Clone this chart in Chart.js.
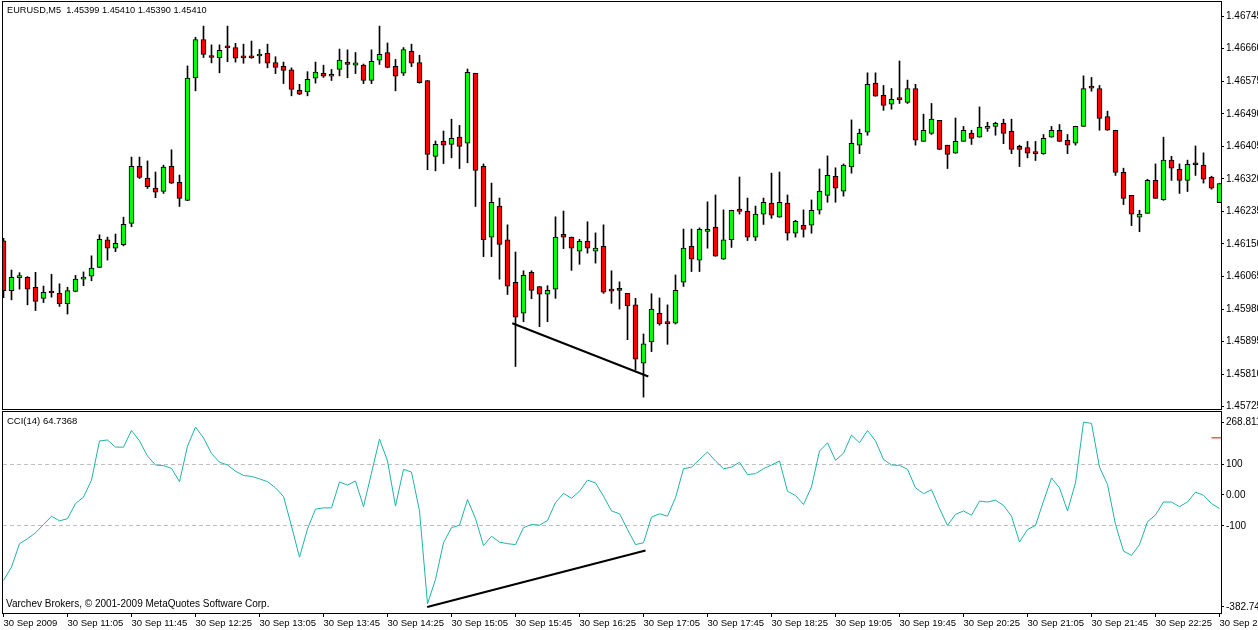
<!DOCTYPE html>
<html lang="en">
<head>
<meta charset="UTF-8">
<title>EURUSD,M5 with CCI(14)</title>
<script src="https://cdn.jsdelivr.net/npm/chart.js"></script>
<style>
  body { margin: 0; background: #fff; width: 1258px; height: 630px; overflow: hidden; position: relative; font-family: "Liberation Sans", Arial, sans-serif; }
  canvas { position: absolute; left: 0; }
  #priceChart { top: 0; }
  #cciChart { top: 410px; }
  .caption { position: absolute; font-size: 10px; line-height: 12px; color: #000; white-space: pre; }
</style>
</head>
<body>
<canvas id="priceChart" width="1258" height="410"></canvas>
<canvas id="cciChart" width="1258" height="220"></canvas>
<div class="caption" style="left:7px; top:4px; font-size:9.2px;">EURUSD,M5  1.45399 1.45410 1.45390 1.45410</div>
<div class="caption" style="left:7px; top:415px; font-size:9.5px;">CCI(14) 64.7368</div>
<div class="caption" style="left:6px; top:598px;">Varchev Brokers, © 2001-2009 MetaQuotes Software Corp.</div>

<script>
// M5 bars (bar 0 = 10:25)
const openPrices = [1.46158,1.46028,1.46062,1.46063,1.46037,1.46008,1.46023,1.46021,1.45994,1.46026,
  1.46058,1.46066,1.46089,1.46161,1.46139,1.46148,1.46204,1.46353,1.46322,1.46296,
  1.46287,1.46353,1.46311,1.46264,1.46584,1.46684,1.46640,1.46636,1.46663,1.46663,
  1.46637,1.46637,1.46641,1.46648,1.46624,1.46614,1.46605,1.46551,1.46547,1.46583,
  1.46596,1.46588,1.46606,1.46625,1.46617,1.46617,1.46577,1.46630,1.46650,1.46614,
  1.46596,1.46653,1.46624,1.46577,1.46379,1.46418,1.46410,1.46429,1.46413,1.46596,
  1.46353,1.46168,1.46249,1.46161,1.46050,1.45969,1.46076,1.46039,1.46019,1.46032,
  1.46175,1.46168,1.46131,1.46157,1.46131,1.46144,1.46028,1.46034,1.46021,1.45991,
  1.45839,1.45894,1.45969,1.45943,1.45943,1.46050,1.46144,1.46108,1.46183,1.46194,
  1.46110,1.46161,1.46241,1.46235,1.46168,1.46228,1.46257,1.46220,1.46257,1.46178,
  1.46199,1.46199,1.46238,1.46277,1.46327,1.46288,1.46351,1.46408,1.46442,1.46570,
  1.46538,1.46515,1.46528,1.46520,1.46556,1.46418,1.46439,1.46473,1.46408,1.46387,
  1.46418,1.46439,1.46429,1.46452,1.46457,1.46465,1.46444,1.46405,1.46402,1.46387,
  1.46386,1.46429,1.46447,1.46421,1.46413,1.46457,1.46558,1.46556,1.46483,1.46447,
  1.46337,1.46277,1.46220,1.46230,1.46316,1.46266,1.46369,1.46345,1.46316,1.46358,
  1.46356,1.46324,1.46258];
const highPrices = [1.46165,1.46082,1.46075,1.46065,1.46076,1.46040,1.46071,1.46046,1.46037,1.46068,
  1.46077,1.46119,1.46174,1.46168,1.46176,1.46220,1.46377,1.46377,1.46367,1.46338,
  1.46356,1.46396,1.46330,1.46615,1.46690,1.46719,1.46670,1.46670,1.46719,1.46674,
  1.46672,1.46680,1.46658,1.46672,1.46639,1.46625,1.46610,1.46567,1.46600,1.46625,
  1.46617,1.46606,1.46659,1.46657,1.46650,1.46620,1.46657,1.46719,1.46675,1.46632,
  1.46663,1.46672,1.46643,1.46577,1.46419,1.46445,1.46476,1.46460,1.46607,1.46596,
  1.46359,1.46309,1.46270,1.46200,1.46129,1.46080,1.46080,1.46039,1.46041,1.46221,
  1.46236,1.46168,1.46162,1.46208,1.46179,1.46200,1.46080,1.46051,1.46021,1.46008,
  1.45915,1.46020,1.46009,1.45991,1.46069,1.46189,1.46189,1.46192,1.46260,1.46278,
  1.46239,1.46238,1.46325,1.46270,1.46249,1.46270,1.46335,1.46338,1.46278,1.46212,
  1.46239,1.46265,1.46346,1.46380,1.46349,1.46359,1.46474,1.46450,1.46597,1.46597,
  1.46564,1.46556,1.46628,1.46578,1.46567,1.46489,1.46517,1.46473,1.46408,1.46479,
  1.46457,1.46447,1.46508,1.46468,1.46468,1.46476,1.46476,1.46408,1.46418,1.46418,
  1.46436,1.46457,1.46462,1.46436,1.46457,1.46589,1.46585,1.46564,1.46497,1.46447,
  1.46348,1.46277,1.46238,1.46319,1.46359,1.46429,1.46379,1.46359,1.46369,1.46406,
  1.46388,1.46327,1.46308];
const lowPrices = [1.46010,1.46004,1.46032,1.45991,1.45976,1.45997,1.46011,1.45987,1.45967,1.46025,
  1.46041,1.46054,1.46088,1.46108,1.46130,1.46145,1.46195,1.46321,1.46295,1.46271,
  1.46282,1.46308,1.46248,1.46263,1.46550,1.46637,1.46623,1.46597,1.46626,1.46625,
  1.46622,1.46635,1.46622,1.46610,1.46595,1.46569,1.46537,1.46540,1.46537,1.46570,
  1.46585,1.46577,1.46589,1.46584,1.46595,1.46569,1.46569,1.46619,1.46610,1.46550,
  1.46590,1.46613,1.46570,1.46344,1.46341,1.46360,1.46375,1.46347,1.46362,1.46248,
  1.46117,1.46117,1.46058,1.46018,1.45830,1.45947,1.46007,1.45934,1.45947,1.46008,
  1.46138,1.46081,1.46097,1.46126,1.46100,1.46021,1.45995,1.45980,1.45900,1.45821,
  1.45750,1.45869,1.45938,1.45888,1.45941,1.46039,1.46078,1.46078,1.46139,1.46118,
  1.46110,1.46141,1.46228,1.46159,1.46159,1.46201,1.46217,1.46220,1.46160,1.46168,
  1.46168,1.46178,1.46228,1.46259,1.46259,1.46275,1.46335,1.46386,1.46434,1.46536,
  1.46499,1.46502,1.46517,1.46517,1.46408,1.46418,1.46436,1.46396,1.46347,1.46387,
  1.46418,1.46410,1.46429,1.46444,1.46434,1.46412,1.46386,1.46352,1.46375,1.46368,
  1.46384,1.46429,1.46418,1.46386,1.46408,1.46457,1.46549,1.46447,1.46447,1.46329,
  1.46253,1.46198,1.46182,1.46230,1.46269,1.46264,1.46316,1.46282,1.46287,1.46329,
  1.46309,1.46293,1.46258];
const closePrices = [1.46028,1.46063,1.46063,1.46032,1.46000,1.46024,1.46022,1.45994,1.46028,1.46058,
  1.46063,1.46087,1.46162,1.46139,1.46152,1.46201,1.46353,1.46324,1.46300,1.46285,
  1.46351,1.46309,1.46269,1.46583,1.46684,1.46645,1.46637,1.46656,1.46662,1.46635,
  1.46636,1.46636,1.46646,1.46622,1.46611,1.46603,1.46554,1.46541,1.46580,1.46599,
  1.46588,1.46593,1.46630,1.46619,1.46623,1.46577,1.46627,1.46645,1.46611,1.46588,
  1.46658,1.46622,1.46571,1.46384,1.46410,1.46408,1.46426,1.46405,1.46598,1.46342,
  1.46161,1.46259,1.46149,1.46040,1.45959,1.46068,1.46029,1.46019,1.46029,1.46168,
  1.46168,1.46139,1.46157,1.46139,1.46139,1.46024,1.46027,1.46029,1.45988,1.45849,
  1.45889,1.45980,1.45941,1.45942,1.46029,1.46139,1.46110,1.46188,1.46188,1.46118,
  1.46161,1.46238,1.46235,1.46168,1.46228,1.46259,1.46225,1.46259,1.46178,1.46209,
  1.46188,1.46238,1.46288,1.46329,1.46296,1.46356,1.46413,1.46439,1.46567,1.46536,
  1.46512,1.46528,1.46527,1.46556,1.46421,1.46447,1.46476,1.46397,1.46384,1.46418,
  1.46447,1.46426,1.46455,1.46457,1.46465,1.46439,1.46397,1.46397,1.46387,1.46386,
  1.46426,1.46447,1.46418,1.46408,1.46457,1.46556,1.46557,1.46478,1.46447,1.46337,
  1.46269,1.46228,1.46228,1.46316,1.46269,1.46369,1.46348,1.46316,1.46358,1.46357,
  1.46319,1.46296,1.46308];

// CCI(14) per bar
const cciValues = [-277,-234,-158,-142,-123,-96,-69,-84,-77,-28,
  -7,48,175,178,155,155,209,175,126,97,
  95,86,43,158,220,185,134,106,97,77,
  63,60,52,43,23,-5,-101,-202,-110,-46,
  -42,-42,42,32,45,-38,71,181,110,-36,
  83,74,-52,-353,-274,-155,-106,-98,-15,-77,
  -164,-134,-153,-158,-161,-106,-96,-98,-83,-25,
  5,-11,12,48,39,-4,-52,-61,-112,-161,
  -155,-72,-61,-69,-9,85,90,115,139,110,
  85,90,106,66,69,85,97,110,12,-2,
  -31,26,142,169,112,135,194,169,209,175,
  115,97,96,83,23,4,17,-44,-99,-63,
  -52,-66,-20,-23,-17,-34,-69,-153,-112,-99,
  -20,55,23,-52,39,236,232,90,34,-96,
  -182,-196,-161,-87,-65,-23,-23,-38,-23,9,
  -1,-28,-44];

// hand-drawn divergence lines (bar index, value)
const priceTrendBars = [63.6, 80.6];
const priceTrendValues = [1.45943, 1.45804];
const cciTrendBars = [52.96, 80.25];
const cciTrendValues = [-363, -180];
const cciMarkerBars = [151, 152.2];
const cciMarkerValues = [185, 185];

// axes
const priceTicks = [1.45725,1.45810,1.45895,1.45980,1.46065,1.46150,1.46235,1.46320,1.46405,1.46490,1.46575,1.46660,1.46745];
const priceRange = [1.45719, 1.46782];
const cciRange = [-382.748, 268.811];
const cciLevels = [100, -100];
const cciTickLabels = ['268.811', '100', '0.00', '-100', '-382.748'];
const timeTicks = [0,8,16,24,32,40,48,56,64,72,80,88,96,104,112,120,128,136,144,152];
const timeLabels = ['30 Sep 2009','30 Sep 11:05','30 Sep 11:45','30 Sep 12:25','30 Sep 13:05',
  '30 Sep 13:45','30 Sep 14:25','30 Sep 15:05','30 Sep 15:45','30 Sep 16:25','30 Sep 17:05',
  '30 Sep 17:45','30 Sep 18:25','30 Sep 19:05','30 Sep 19:45','30 Sep 20:25','30 Sep 21:05',
  '30 Sep 21:45','30 Sep 22:25','30 Sep 23:05'];

const xMin = -0.0625, xMax = 152.1875;
const axisFont = { family: 'Liberation Sans', size: 10 };
const timeFont = { family: 'Liberation Sans', size: 9.5 };

// black frame round each plot area
const framePlugin = {
  id: 'frame',
  afterDraw(chart) {
    const { ctx, chartArea: a } = chart;
    ctx.save();
    ctx.strokeStyle = '#000';
    ctx.lineWidth = 1;
    ctx.strokeRect(Math.round(a.left) - 0.5, Math.round(a.top) - 0.5,
      Math.round(a.right - a.left) + 1, Math.round(a.bottom - a.top) + 1);
    ctx.restore();
  }
};

// keep the plot areas fixed: no extra room for overhanging labels
function fixRightAxis(s) {
  s.width = 37;
  s.paddingTop = 0;
  s.paddingBottom = 0;
}
function fixTimeAxis(s) {
  s.height = 17;
  s.paddingLeft = 0;
  s.paddingRight = 0;
}

const bodyData = openPrices.map((o, i) => ({ x: i, y: [o, closePrices[i]] }));
const wickData = lowPrices.map((l, i) => ({ x: i, y: [l, highPrices[i]] }));
const bodyColors = openPrices.map((o, i) => closePrices[i] > o ? '#00ff00' : (closePrices[i] < o ? '#ff0000' : '#000000'));

new Chart(document.getElementById('priceChart'), {
  type: 'bar',
  data: {
    datasets: [{
      type: 'line',
      label: 'Trend',
      data: priceTrendBars.map((b, i) => ({ x: b, y: priceTrendValues[i] })),
      borderColor: '#000',
      borderWidth: 2,
      pointRadius: 0,
      order: 0
    }, {
      label: 'Body',
      data: bodyData,
      backgroundColor: bodyColors,
      borderColor: '#000',
      borderWidth: 1,
      borderSkipped: false,
      barThickness: 5,
      minBarLength: 2,
      grouped: false,
      order: 1
    }, {
      label: 'Wick',
      data: wickData,
      backgroundColor: '#000',
      borderWidth: 0,
      barThickness: 1,
      grouped: false,
      order: 2
    }]
  },
  options: {
    responsive: false,
    animation: false,
    layout: { padding: { left: 3, top: 2, right: 0, bottom: 1 } },
    plugins: { legend: { display: false }, tooltip: { enabled: false } },
    scales: {
      x: { type: 'linear', display: false, min: xMin, max: xMax, offset: false, grid: { offset: false } },
      y: {
        position: 'right',
        min: priceRange[0],
        max: priceRange[1],
        afterFit: fixRightAxis,
        afterBuildTicks: s => { s.ticks = priceTicks.map(v => ({ value: v })); },
        grid: { drawOnChartArea: false, tickLength: 3, color: '#000' },
        border: { display: false },
        ticks: { padding: 2, color: '#000', font: axisFont, callback: v => v.toFixed(5) }
      }
    }
  },
  plugins: [framePlugin]
});

new Chart(document.getElementById('cciChart'), {
  type: 'line',
  data: {
    datasets: [{
      label: 'Trend',
      data: cciTrendBars.map((b, i) => ({ x: b, y: cciTrendValues[i] })),
      borderColor: '#000',
      borderWidth: 2,
      pointRadius: 0
    }, {
      label: 'Marker',
      data: cciMarkerBars.map((b, i) => ({ x: b, y: cciMarkerValues[i] })),
      borderColor: '#ff0000',
      borderWidth: 1,
      pointRadius: 0
    }, {
      label: 'CCI(14)',
      data: cciValues.map((v, i) => ({ x: i, y: v })),
      borderColor: '#20b2aa',
      borderWidth: 1,
      pointRadius: 0,
      tension: 0
    }]
  },
  options: {
    responsive: false,
    animation: false,
    layout: { padding: { left: 3, top: 2, right: 0, bottom: 0 } },
    plugins: { legend: { display: false }, tooltip: { enabled: false } },
    scales: {
      x: {
        type: 'linear',
        min: xMin,
        max: xMax,
        afterFit: fixTimeAxis,
        afterBuildTicks: s => { s.ticks = timeTicks.map(v => ({ value: v })); },
        grid: { drawOnChartArea: false, tickLength: 4, color: '#000' },
        border: { display: false },
        ticks: { autoSkip: false, maxRotation: 0, align: 'start', padding: 1, color: '#000', font: timeFont,
          callback: (v, idx) => timeLabels[idx] }
      },
      y: {
        position: 'right',
        min: cciRange[0],
        max: cciRange[1],
        afterFit: fixRightAxis,
        afterBuildTicks: s => {
          // MetaTrader draws the range labels a little inside the panel
          const span = cciRange[1] - cciRange[0];
          s.ticks = [cciRange[1] - 0.05 * span, 100, 0, -100, cciRange[0] + 0.03 * span].map(v => ({ value: v }));
        },
        grid: {
          drawOnChartArea: true,
          tickLength: 3,
          tickColor: '#000',
          color: c => (c.tick && cciLevels.includes(c.tick.value)) ? '#c0c0c0' : 'rgba(0,0,0,0)'
        },
        border: { display: false, dash: [4, 3] },
        ticks: { padding: 2, color: '#000', font: axisFont, callback: (v, idx) => cciTickLabels[idx] }
      }
    }
  },
  plugins: [framePlugin]
});
</script>
</body>
</html>
